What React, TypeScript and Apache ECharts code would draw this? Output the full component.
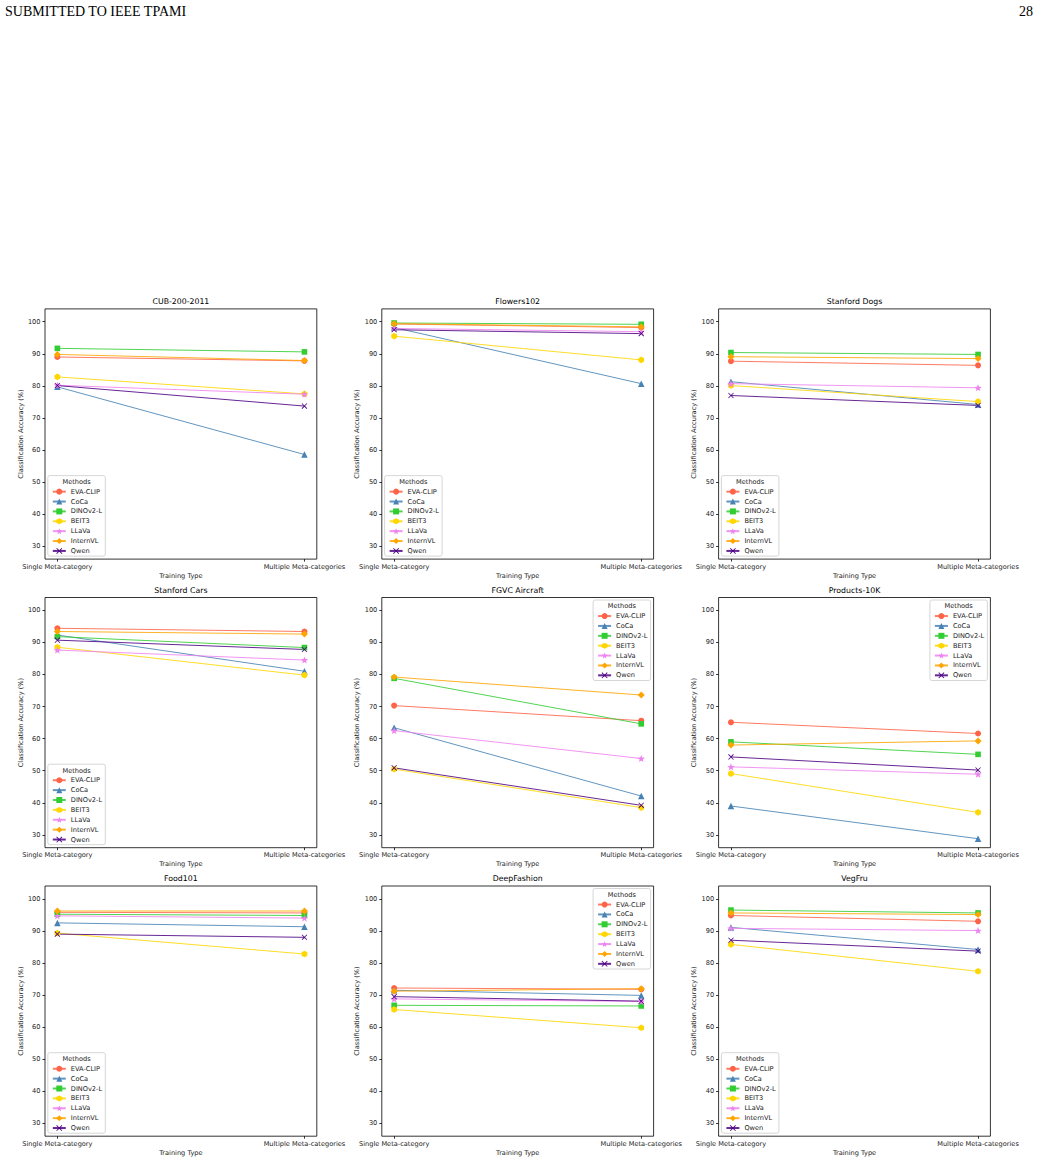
import { useEffect, useRef } from "react";
import * as echarts from "echarts";

const trainingTypes = ["Single Meta-category", "Multiple Meta-categories"];
const methods = ["EVA-CLIP", "CoCa", "DINOv2-L", "BEIT3", "LLaVa", "InternVL", "Qwen"];
const methodColors = ["#FF6347", "#4682B4", "#32CD32", "#FFD700", "#EE82EE", "#FFA500", "#4B0082"];
const datasetNames = [
  "CUB-200-2011", "Flowers102", "Stanford Dogs",
  "Stanford Cars", "FGVC Aircraft", "Products-10K",
  "Food101", "DeepFashion", "VegFru",
];

// Classification accuracy (%) per method, [single, multiple], in `methods` order
const cubAcc = [[89.0, 87.8], [79.7, 58.6], [91.7, 90.6], [82.8, 77.5], [80.2, 77.4], [89.8, 87.9], [80.1, 73.7]];
const flowersAcc = [[99.3, 98.2], [98.2, 80.7], [99.6, 99.2], [95.5, 88.1], [97.9, 96.9], [99.4, 98.4], [97.5, 96.3]];
const dogsAcc = [[87.7, 86.4], [81.3, 74.2], [90.4, 89.8], [80.1, 75.1], [80.7, 79.4], [89.1, 88.5], [77.0, 73.9]];
const carsAcc = [[94.4, 93.4], [92.3, 81.0], [91.8, 88.4], [88.5, 79.8], [87.6, 84.5], [93.4, 92.6], [90.7, 87.8]];
const aircraftAcc = [[70.3, 65.6], [63.4, 42.1], [78.8, 64.6], [50.5, 38.5], [62.5, 53.8], [79.2, 73.6], [50.9, 39.2]];
const productsAcc = [[65.1, 61.6], [39.0, 28.8], [59.0, 55.1], [49.1, 37.0], [51.2, 48.9], [58.0, 59.3], [54.3, 50.2]];
const foodAcc = [[95.8, 95.6], [92.5, 91.3], [95.2, 94.8], [89.3, 82.8], [94.7, 94.0], [96.2, 96.2], [89.0, 88.0]];
const fashionAcc = [[72.2, 71.8], [71.5, 69.9], [66.8, 66.6], [65.5, 59.8], [68.8, 68.0], [71.2, 72.0], [69.5, 68.1]];
const vegfruAcc = [[94.8, 93.0], [91.1, 84.2], [96.5, 95.6], [85.8, 77.4], [90.8, 90.1], [95.6, 95.1], [87.1, 83.7]];

const panelAcc = [cubAcc, flowersAcc, dogsAcc, carsAcc, aircraftAcc, productsAcc, foodAcc, fashionAcc, vegfruAcc];
// legend corner per panel: lower left or upper right
const legendCorner = ["ll", "ll", "ll", "ll", "ur", "ur", "ll", "ur", "ll"];

const yTicks = [30, 40, 50, 60, 70, 80, 90, 100];

// layout of the 3x3 panel grid (px)
const colLeft = [45, 381.8, 718.6];
const rowTop = [308.9, 597.5, 886.0];
const plotW = 271.8;
const plotH = 250.2;

const FONT = "DejaVu Sans";
const SMALL = 6.6;

function starPath(): string {
  const pts: string[] = [];
  for (let i = 0; i < 10; i++) {
    const r = i % 2 === 0 ? 1 : 0.42;
    const a = -Math.PI / 2 + (i * Math.PI) / 5;
    pts.push(`${(r * Math.cos(a)).toFixed(3)},${(r * Math.sin(a)).toFixed(3)}`);
  }
  return "path://M" + pts.join("L") + "Z";
}

const hexPath = "path://M0,-1L0.866,-0.5L0.866,0.5L0,1L-0.866,0.5L-0.866,-0.5Z";
const diamondPath = "path://M0,-1L1,0L0,1L-1,0Z";
const crossPath =
  "path://M-1,-0.8L-0.8,-1L0,-0.2L0.8,-1L1,-0.8L0.2,0L1,0.8L0.8,1L0,0.2L-0.8,1L-1,0.8L-0.2,0Z";

const methodSymbols = ["circle", "triangle", "rect", hexPath, starPath(), diamondPath, crossPath];
const methodSymbolSizes = [6, 6.5, 5.6, 6.6, 7.4, 7, 5.6];

export default function App() {
  const ref = useRef<HTMLDivElement>(null);

  useEffect(() => {
    if (!ref.current) return;
    const chart = echarts.init(ref.current, undefined, { renderer: "svg" });

    const grids: any[] = [];
    const xAxes: any[] = [];
    const yAxes: any[] = [];
    const titles: any[] = [];
    const legends: any[] = [];
    const series: any[] = [];
    const graphics: any[] = [
      {
        type: "text",
        left: 5,
        top: 4,
        style: { text: "SUBMITTED TO IEEE TPAMI", font: "14px 'Liberation Serif'", fill: "#000" },
      },
      {
        type: "text",
        right: 7,
        top: 4,
        style: { text: "28", font: "14px 'Liberation Serif'", fill: "#000" },
      },
    ];

    panelAcc.forEach((acc, p) => {
      const L = colLeft[p % 3];
      const T = rowTop[Math.floor(p / 3)];

      grids.push({
        left: L,
        top: T,
        width: plotW,
        height: plotH,
        show: true,
        borderColor: "#000",
        borderWidth: 0.8,
        backgroundColor: "#fff",
      });

      xAxes.push({
        type: "value",
        gridIndex: p,
        min: -0.05,
        max: 1.05,
        axisLine: { show: false, onZero: false },
        splitLine: { show: false },
        axisTick: { show: true, customValues: [0, 1], length: 2.5, lineStyle: { color: "#000", width: 0.8 } },
        axisLabel: {
          customValues: [0, 1],
          formatter: (v: number) => trainingTypes[Math.round(v)],
          fontSize: SMALL,
          fontFamily: FONT,
          color: "#222",
          margin: 4,
        },
        name: "Training Type",
        nameLocation: "middle",
        nameGap: 13,
        nameTextStyle: { fontSize: SMALL, fontFamily: FONT, color: "#222" },
      });

      yAxes.push({
        type: "value",
        gridIndex: p,
        min: 26,
        max: 104,
        axisLine: { show: false, onZero: false },
        splitLine: { show: false },
        axisTick: { show: true, customValues: yTicks, length: 2.5, lineStyle: { color: "#000", width: 0.8 } },
        axisLabel: {
          customValues: yTicks,
          fontSize: SMALL,
          fontFamily: FONT,
          color: "#222",
          margin: 4.5,
        },
        name: "Classification Accuracy (%)",
        nameLocation: "middle",
        nameGap: 19.5,
        nameRotate: 90,
        nameTextStyle: { fontSize: SMALL, fontFamily: FONT, color: "#222" },
      });

      titles.push({
        text: datasetNames[p],
        left: L + plotW / 2,
        top: T - 11.2,
        textAlign: "center",
        padding: 0,
        textStyle: { fontSize: 7.8, fontFamily: FONT, fontWeight: "normal", color: "#000" },
      });

      // legend frame with its "Methods" heading
      const fw = 57.5;
      const fh = 80.5;
      const fx = legendCorner[p] === "ll" ? L + 2.8 : L + plotW - 3 - fw;
      const fy = legendCorner[p] === "ll" ? T + plotH - 3 - fh : T + 2.5;
      graphics.push({
        type: "rect",
        z: 3,
        shape: { x: fx, y: fy, width: fw, height: fh, r: 2 },
        style: { fill: "rgba(255,255,255,0.85)", stroke: "#cccccc", lineWidth: 0.8 },
      });
      graphics.push({
        type: "text",
        z: 5,
        x: fx + fw / 2,
        y: fy + 6.3,
        style: {
          text: "Methods",
          fontSize: SMALL,
          fontFamily: FONT,
          fill: "#222",
          align: "center",
          verticalAlign: "middle",
        },
      });

      legends.push({
        orient: "vertical",
        left: fx + 4,
        top: fy + 12.3,
        padding: 0,
        itemWidth: 13,
        itemHeight: 7.5,
        itemGap: 2.38,
        data: methods,
        selectedMode: false,
        textStyle: { fontSize: SMALL, fontFamily: FONT, color: "#222", lineHeight: 7.5 },
        z: 4,
      });

      acc.forEach((vals, m) => {
        series.push({
          type: "line",
          name: methods[m],
          xAxisIndex: p,
          yAxisIndex: p,
          data: vals.map((v, i) => [i, v]),
          symbol: methodSymbols[m],
          symbolSize: methodSymbolSizes[m],
          symbolKeepAspect: true,
          color: methodColors[m],
          itemStyle: { color: methodColors[m] },
          lineStyle: { color: methodColors[m], width: 1, opacity: 0.85 },
          emphasis: { disabled: true },
        });
      });
    });

    chart.setOption({
      animation: false,
      backgroundColor: "#fff",
      textStyle: { fontFamily: FONT },
      title: titles,
      grid: grids,
      xAxis: xAxes,
      yAxis: yAxes,
      legend: legends,
      series,
      graphic: graphics,
    });

    return () => chart.dispose();
  }, []);

  return (
    <div
      ref={ref}
      style={{ position: "fixed", left: 0, top: 0, width: 1040, height: 1163, background: "#fff" }}
    />
  );
}
